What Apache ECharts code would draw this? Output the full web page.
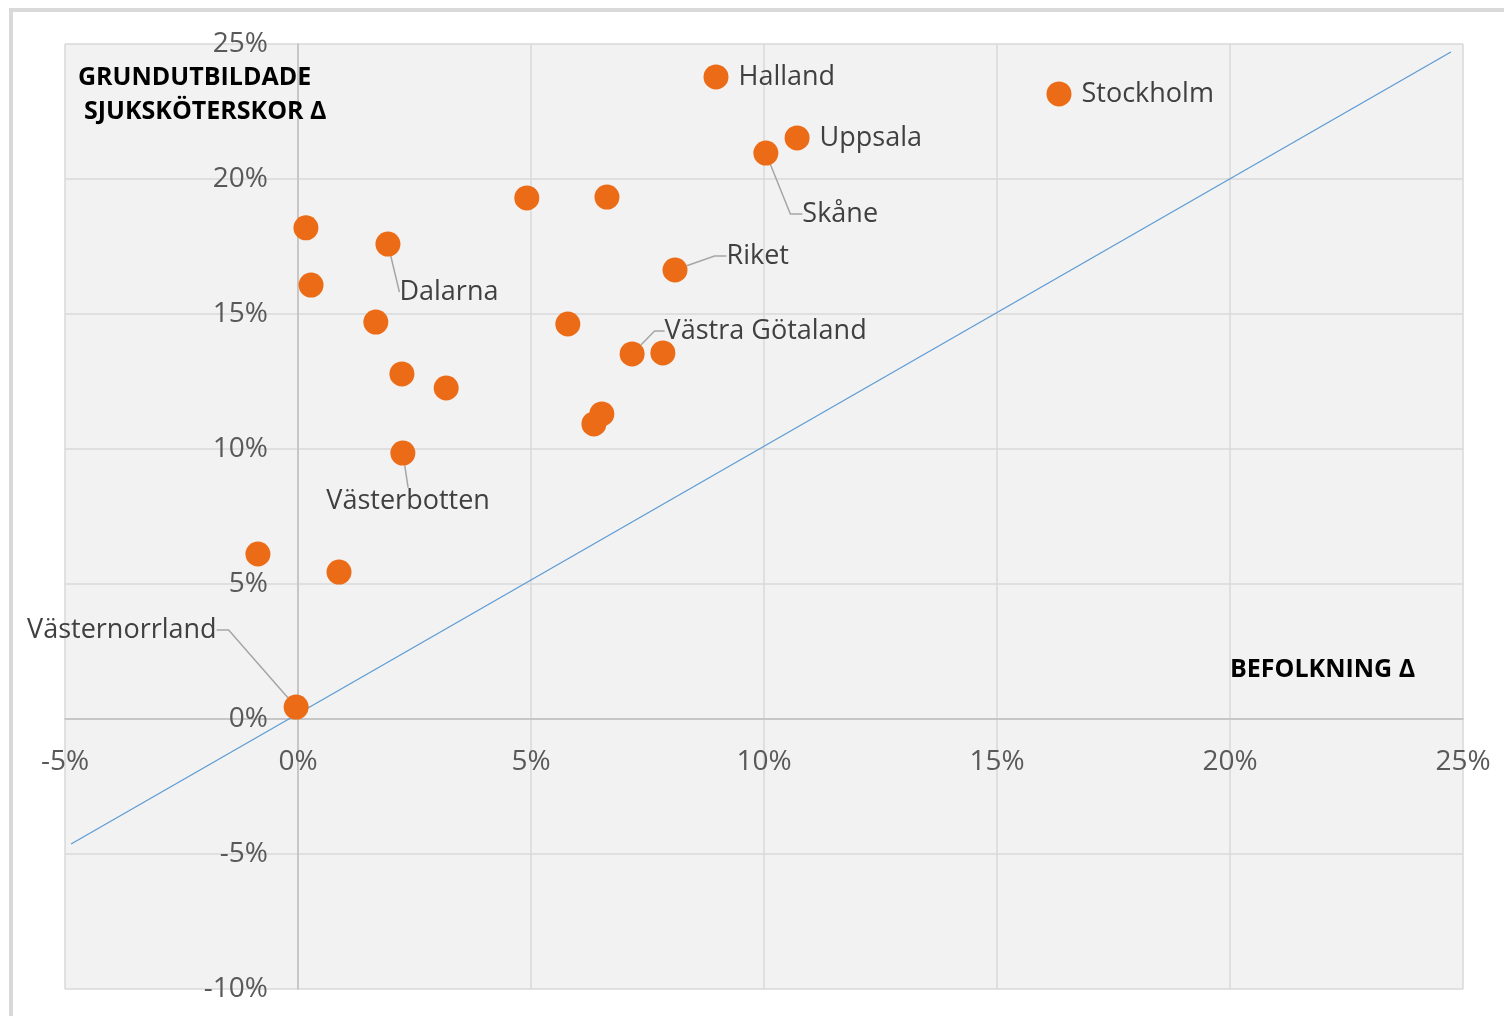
<!DOCTYPE html>
<html>
<head>
<meta charset="utf-8">
<script src="https://cdn.jsdelivr.net/npm/echarts@6/dist/echarts.min.js"></script>
<style>
  html, body { margin: 0; padding: 0; background: #fff; overflow: hidden; }
  #frame { position: absolute; left: 9px; top: 8px; width: 1600px; height: 1100px;
           border-left: 4px solid #d9d9d9; border-top: 4px solid #d9d9d9; }
  #chart { position: absolute; left: 0; top: 0; width: 1504px; height: 1016px; }
</style>
</head>
<body>
<div id="frame"></div>
<div id="chart"></div>
<script>
  // län, befolkningsförändring (%) och förändring grundutbildade sjuksköterskor (%)
  var regions = ['Halland', 'Stockholm', 'Uppsala', 'Skåne', '', '', '', 'Dalarna', 'Riket', '', '',
    '', 'Västra Götaland', '', '', '', '', '', 'Västerbotten', '', '', 'Västernorrland']
  var popChange = [8.97, 16.33, 10.71, 10.04, 4.91, 6.63, 0.17, 1.93, 8.09, 0.28, 1.67,
    5.79, 7.17, 7.83, 2.23, 3.18, 6.52, 6.35, 2.25, -0.86, 0.88, -0.04]
  var nurseChange = [23.78, 23.15, 21.52, 20.96, 19.30, 19.33, 18.19, 17.59, 16.63, 16.07, 14.70,
    14.63, 13.52, 13.56, 12.78, 12.26, 11.30, 10.93, 9.85, 6.11, 5.44, 0.44]

  // referenslinje
  var refX = [-4.87, 24.74]
  var refY = [-4.63, 24.70]

  var xTicks = [-5, 0, 5, 10, 15, 20, 25]
  var yTicks = [-10, -5, 0, 5, 10, 15, 20, 25]

  // flyttade etiketter (pixlar från standardläget till höger om punkten)
  var moved = {
    'Skåne': { dx: 14, dy: 61, len: 12 },
    'Riket': { dx: 29, dy: -14, len: 12 },
    'Dalarna': { dx: -11, dy: 48, len: 0 },
    'Västra Götaland': { dx: 10, dy: -23, len: 10 },
    'Västerbotten': { dx: -99, dy: 48, len: 0 },
    'Västernorrland': { dx: -102, dy: -77, len: 12, align: 'right' }
  }

  var font = '"Open Sans", "DejaVu Sans", sans-serif'

  var W = 1504, H = 1016
  var gLeft = 65, gRight = 41, gTop = 44, gBottom = 27
  // axlarna ligger vid noll, inte vid plottytans kant
  var xMin = xTicks[0], xMax = xTicks[xTicks.length - 1]
  var yMin = yTicks[0], yMax = yTicks[yTicks.length - 1]
  var yAxisShift = (0 - xMin) / (xMax - xMin) * (W - gLeft - gRight)
  var xAxisShift = (0 - yMin) / (yMax - yMin) * (H - gTop - gBottom)

  var scatterData = popChange.map(function (x, i) {
    var item = { name: regions[i], value: [x, nurseChange[i]] }
    var m = moved[regions[i]]
    if (m) {
      item.labelLine = { show: true, length2: m.len }
    }
    return item
  })

  var chart = echarts.init(document.getElementById('chart'))
  chart.setOption({
    animation: false,
    grid: {
      left: gLeft,
      right: gRight,
      top: gTop,
      bottom: gBottom,
      outerBoundsMode: 'none',
      containLabel: false,
      show: true,
      backgroundColor: '#f2f2f2',
      borderWidth: 0
    },
    xAxis: {
      type: 'value',
      min: xMin,
      max: xMax,
      interval: 5,
      offset: -xAxisShift,
      axisLine: { onZero: false, lineStyle: { color: '#bfbfbf', width: 1.5 } },
      axisTick: { show: false },
      axisLabel: {
        formatter: '{value}%',
        fontFamily: font,
        fontSize: 28,
        color: '#595959',
        margin: 29
      },
      splitLine: { show: true, lineStyle: { color: '#d9d9d9', width: 1.5 } }
    },
    yAxis: {
      type: 'value',
      min: yMin,
      max: yMax,
      interval: 5,
      offset: -yAxisShift,
      axisLine: { onZero: false, lineStyle: { color: '#bfbfbf', width: 1.5 } },
      axisTick: { show: false },
      axisLabel: {
        formatter: '{value}%',
        fontFamily: font,
        fontSize: 28,
        color: '#595959',
        margin: 30
      },
      splitLine: { show: true, lineStyle: { color: '#d9d9d9', width: 1.5 } }
    },
    graphic: [
      {
        type: 'text', left: 78, top: 65, z: 10,
        style: { text: 'GRUNDUTBILDADE', font: 'bold 25px ' + font, fill: '#000' }
      },
      {
        type: 'text', left: 84, top: 99, z: 10,
        style: { text: 'SJUKSKÖTERSKOR Δ', font: 'bold 25px ' + font, fill: '#000' }
      },
      {
        type: 'text', left: 1230, top: 657, z: 10,
        style: { text: 'BEFOLKNING Δ', font: 'bold 25px ' + font, fill: '#000' }
      }
    ],
    series: [
      {
        type: 'line',
        data: refX.map(function (x, i) { return [x, refY[i]] }),
        symbol: 'none',
        z: 1,
        lineStyle: { color: '#5b9bd5', width: 1.2 }
      },
      {
        type: 'scatter',
        data: scatterData,
        symbolSize: 25,
        z: 3,
        itemStyle: { color: '#ec6b17', opacity: 1 },
        label: {
          show: true,
          position: 'right',
          distance: 10,
          offset: [0, 2],
          formatter: '{b}',
          fontFamily: font,
          fontSize: 27,
          color: '#404040'
        },
        labelLine: {
          show: false,
          length2: 12,
          lineStyle: { color: '#a6a6a6', width: 1.5 }
        },
        labelLayout: function (params) {
          var m = moved[regions[params.dataIndex]]
          if (!m) return {}
          var out = { dx: m.dx, dy: m.dy }
          if (m.align) out.align = m.align
          return out
        }
      }
    ]
  })
</script>
</body>
</html>
